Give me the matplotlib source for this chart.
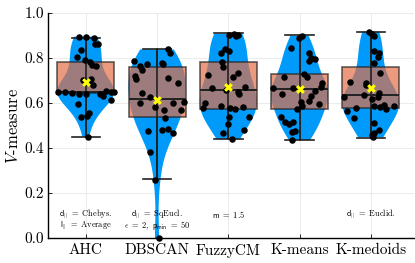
import numpy as np
import matplotlib.pyplot as plt

plt.rcParams['font.family'] = 'serif'
plt.rcParams['font.serif'] = ['cmr10']
plt.rcParams['mathtext.fontset'] = 'cm'
plt.rcParams['axes.formatter.use_mathtext'] = True

methods = ['AHC', 'DBSCAN', 'FuzzyCM', 'K-means', 'K-medoids']

# V-measure of each run
ahc = [0.895, 0.895, 0.888, 0.861, 0.861, 0.836, 0.806, 0.791, 0.781, 0.769,
       0.766, 0.702, 0.707, 0.692, 0.680, 0.650, 0.650, 0.644, 0.642, 0.642,
       0.642, 0.648, 0.650, 0.633, 0.613, 0.594, 0.554, 0.544, 0.539, 0.450, 0.652]
dbscan = [0.838, 0.821, 0.788, 0.764, 0.747, 0.773, 0.776, 0.773, 0.720, 0.705,
          0.710, 0.688, 0.646, 0.625, 0.601, 0.584, 0.569, 0.601, 0.569, 0.606,
          0.532, 0.477, 0.480, 0.483, 0.468, 0.384, 0.258, 0.0]
fuzzycm = [0.902, 0.907, 0.898, 0.902, 0.824, 0.838, 0.833, 0.784, 0.761, 0.724,
           0.732, 0.717, 0.672, 0.665, 0.658, 0.650, 0.640, 0.601, 0.576, 0.587,
           0.576, 0.572, 0.581, 0.539, 0.536, 0.507, 0.480, 0.468, 0.439]
kmeans = [0.899, 0.890, 0.843, 0.821, 0.801, 0.796, 0.787, 0.727, 0.717, 0.717,
          0.688, 0.672, 0.665, 0.665, 0.653, 0.640, 0.632, 0.609, 0.603, 0.597,
          0.588, 0.573, 0.539, 0.514, 0.505, 0.517, 0.476, 0.472, 0.436]
kmedoids = [0.917, 0.907, 0.898, 0.833, 0.821, 0.803, 0.776, 0.735, 0.695, 0.690,
            0.680, 0.643, 0.628, 0.636, 0.625, 0.616, 0.591, 0.581, 0.587, 0.587,
            0.576, 0.572, 0.566, 0.532, 0.510, 0.480, 0.465, 0.458, 0.448]

# horizontal jitter of the dots (in category units)
ahc_jit = [-0.10, 0.01, 0.12, 0.13, 0.17, -0.07, -0.12, -0.01, 0.06, 0.09,
           0.15, -0.04, 0.07, 0.05, 0.10, -0.39, -0.29, -0.20, -0.10, 0.00,
           0.20, 0.36, 0.39, 0.24, 0.35, -0.11, 0.05, 0.02, -0.06, 0.03, 0.29]
dbscan_jit = [0.16, 0.18, -0.32, -0.24, -0.21, -0.14, 0.07, 0.08, -0.31, -0.30,
              0.15, 0.30, -0.21, -0.10, -0.24, -0.03, 0.10, 0.22, 0.33, 0.38,
              0.11, -0.12, 0.07, 0.16, 0.22, -0.10, -0.03, 0.03]
fuzzycm_jit = [0.01, 0.08, 0.11, 0.14, -0.10, -0.04, 0.01, -0.09, -0.08, -0.28,
               0.13, 0.07, 0.24, -0.23, -0.03, 0.13, 0.15, -0.32, -0.36, -0.10,
               0.02, 0.10, 0.21, 0.01, 0.29, 0.00, 0.22, -0.08, 0.05]
kmeans_jit = [0.04, -0.01, -0.12, 0.14, 0.16, 0.22, 0.14, 0.07, 0.11, -0.22,
              0.32, 0.30, -0.37, -0.09, 0.22, -0.25, 0.16, 0.14, 0.02, 0.27,
              0.04, -0.04, -0.26, -0.20, -0.15, -0.09, -0.07, -0.10, -0.11]
kmedoids_jit = [-0.03, 0.02, 0.04, 0.04, 0.12, 0.10, 0.04, 0.13, -0.29, -0.07,
                -0.06, 0.12, 0.10, -0.09, -0.37, 0.02, 0.19, 0.13, 0.04, 0.33,
                -0.21, 0.21, -0.34, -0.23, 0.05, 0.12, 0.05, 0.02, 0.03]

# box statistics as drawn
q1 = [0.643, 0.539, 0.573, 0.575, 0.576]
med = [0.651, 0.616, 0.656, 0.664, 0.636]
q3 = [0.784, 0.758, 0.782, 0.729, 0.761]
whislo = [0.450, 0.261, 0.439, 0.437, 0.446]
whishi = [0.890, 0.838, 0.910, 0.902, 0.917]
means = [0.695, 0.613, 0.670, 0.661, 0.665]

notes = [[r'$\mathsf{d}_{||}\ =\ \mathrm{Chebys.}$', r'$\mathsf{l}_{||}\ =\ \mathrm{Average}$'],
         [r'$\mathsf{d}_{||}\ =\ \mathrm{SqEucl.}$', r'$\epsilon\ =\ 2,\ \mathsf{p}_{\mathsf{min}}\ =\ 50$'],
         [r'$\mathsf{m}\ =\ 1.5$'],
         [],
         [r'$\mathsf{d}_{||}\ =\ \mathrm{Euclid.}$']]
note_y = [0.106, 0.054]

data = [ahc, dbscan, fuzzycm, kmeans, kmedoids]
jitter = [ahc_jit, dbscan_jit, fuzzycm_jit, kmeans_jit, kmedoids_jit]
pos = np.arange(1, len(methods) + 1)

fig = plt.figure(figsize=(4.15, 2.63), dpi=100)
ax = fig.add_axes([48 / 415, 25 / 263, 365.5 / 415, 225 / 263])

vp = ax.violinplot(data, positions=pos, widths=0.8, showextrema=False)
for body in vp['bodies']:
    body.set_facecolor('#009AFA')
    body.set_edgecolor('none')
    body.set_alpha(1)
    body.set_zorder(1)

stats = [dict(q1=q1[i], med=med[i], q3=q3[i], whislo=whislo[i], whishi=whishi[i])
         for i in range(len(methods))]
ax.bxp(stats, positions=pos, widths=0.8, showfliers=False, patch_artist=True,
       boxprops=dict(facecolor='#E36F47', alpha=0.7, edgecolor='#222222', linewidth=1.2),
       medianprops=dict(color='#222222', linewidth=1.4),
       whiskerprops=dict(color='#222222', linewidth=1.2),
       capprops=dict(color='#222222', linewidth=1.2), capwidths=0.4, zorder=2)
# whisker line runs through the box
ax.vlines(pos, whislo, whishi, color='#222222', linewidth=1.2, zorder=3)

for i in range(len(methods)):
    ax.scatter(pos[i] + np.array(jitter[i]), data[i], s=22, color='black',
               zorder=4, clip_on=False, linewidths=0)
ax.scatter(pos, means, marker='X', s=40, color='#FFFF00', zorder=5, linewidths=0)

for i, lines in enumerate(notes):
    for j, txt in enumerate(lines):
        ax.text(pos[i], note_y[j], txt, ha='center', va='center', fontsize=6)

ax.set_xlim(0.47, 5.6)
ax.set_ylim(0, 1.0)
ax.set_xticks(pos)
ax.set_xticklabels(methods, fontsize=11)
ax.set_yticks([0.0, 0.2, 0.4, 0.6, 0.8, 1.0])
ax.set_yticklabels(['0.0', '0.2', '0.4', '0.6', '0.8', '1.0'], fontsize=11)
ax.set_ylabel(r'$V$-measure', fontsize=12, labelpad=2)
ax.grid(True, color='#e8e8e8', linewidth=0.6)
ax.set_axisbelow(True)
ax.tick_params(direction='in', length=3, width=0.6, pad=3)
ax.tick_params(axis='x', pad=4)
for s in ['top', 'right']:
    ax.spines[s].set_visible(False)
ax.spines['left'].set_linewidth(1.0)
ax.spines['bottom'].set_linewidth(1.0)

fig.savefig('out.png', dpi=100)
